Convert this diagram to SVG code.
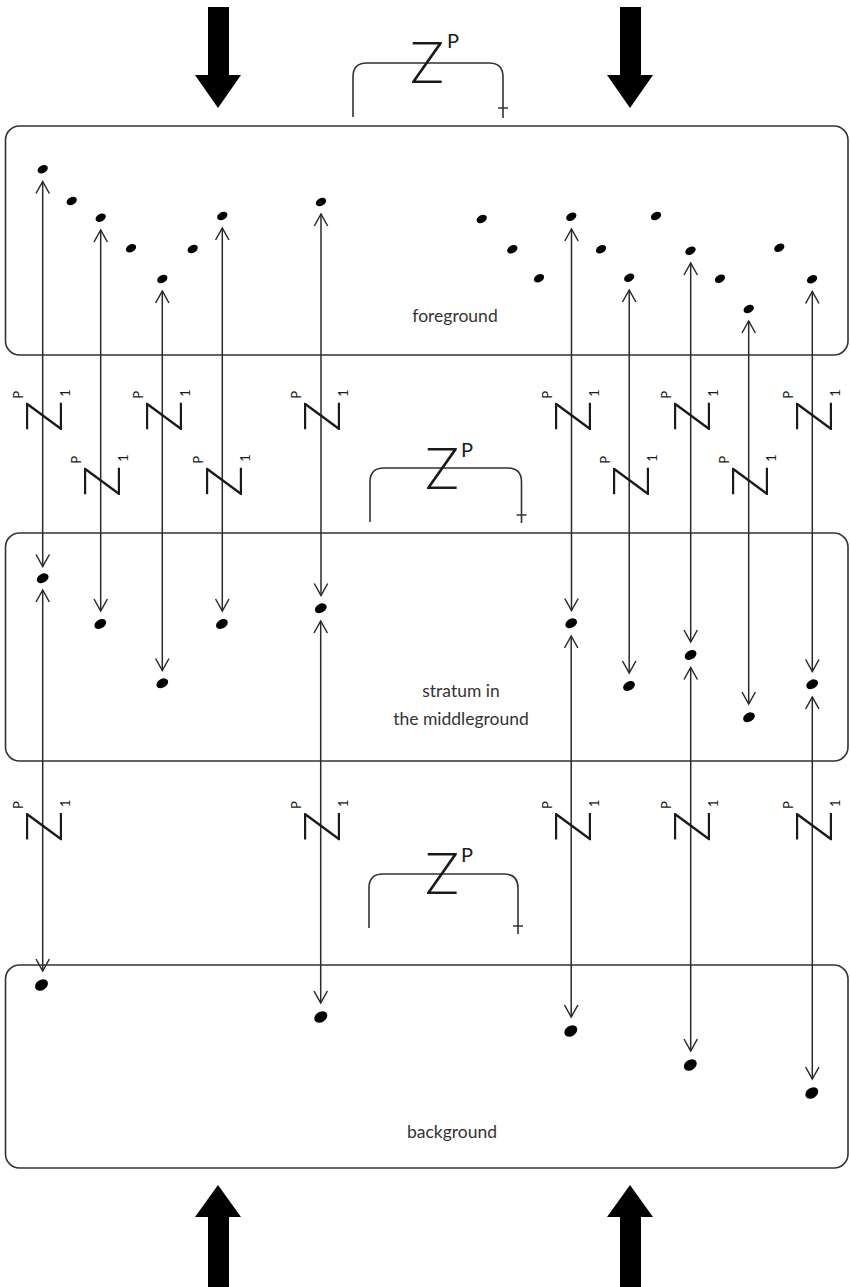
<svg xmlns="http://www.w3.org/2000/svg" width="850" height="1287" viewBox="0 0 850 1287">
<defs>
<style>
.box{fill:none;stroke:#333;stroke-width:1.6}
.lbl{font-family:Lato,'Liberation Sans',sans-serif;font-size:17.5px;fill:#333;text-anchor:middle}
.zl{font-family:Lato,'Liberation Sans',sans-serif;font-weight:300;font-size:52px;fill:#1a1a1a}
.zs{font-family:Lato,'Liberation Sans',sans-serif;font-weight:400;font-size:13px;fill:#1a1a1a}
.zb{font-family:Lato,'Liberation Sans',sans-serif;font-weight:300;font-size:57px;fill:#1a1a1a}
.zbs{font-family:Lato,'Liberation Sans',sans-serif;font-weight:400;font-size:20px;fill:#1a1a1a}
.br{fill:none;stroke:#333;stroke-width:1.6}
.con{stroke:#2a2a2a;stroke-width:1.5;fill:none;marker-start:url(#ah);marker-end:url(#ah)}
.dot{fill:#000}
.big{fill:#000}
</style>
<marker id="ah" viewBox="-14 -9 16 18" refX="0" refY="0" markerWidth="16" markerHeight="18" markerUnits="userSpaceOnUse" orient="auto-start-reverse">
<path d="M-12,-6.7 L0,0 L-12,6.7" fill="none" stroke="#2a2a2a" stroke-width="1.5"/>
</marker>
</defs>

<g id="bigArrows">
<polygon class="big" points="208,7 229,7 229,75 241,75 218,108 195,75 208,75"/>
<polygon class="big" points="620,7 641,7 641,75 653,75 630,108 607,75 620,75"/>
<polygon class="big" points="208,1287 229,1287 229,1217 241,1217 218,1185 195,1217 208,1217"/>
<polygon class="big" points="620,1287 641,1287 641,1217 653,1217 630,1185 607,1217 620,1217"/>
</g>

<g id="foreground">
<rect class="box" x="5.5" y="126" width="842.5" height="229" rx="14"/>
<text class="lbl" x="455" y="322">foreground</text>
<g class="dot">
<ellipse cx="42.7" cy="169.3" rx="5.5" ry="3.8" transform="rotate(-30 42.7 169.3)"/>
<ellipse cx="71.7" cy="201" rx="5.5" ry="3.8" transform="rotate(-30 71.7 201)"/>
<ellipse cx="100.7" cy="217.7" rx="5.5" ry="3.8" transform="rotate(-30 100.7 217.7)"/>
<ellipse cx="131" cy="248.3" rx="5.5" ry="3.8" transform="rotate(-30 131 248.3)"/>
<ellipse cx="162.3" cy="279" rx="5.5" ry="3.8" transform="rotate(-30 162.3 279)"/>
<ellipse cx="192.7" cy="249" rx="5.5" ry="3.8" transform="rotate(-30 192.7 249)"/>
<ellipse cx="222.3" cy="216" rx="5.5" ry="3.8" transform="rotate(-30 222.3 216)"/>
<ellipse cx="321" cy="202" rx="5.5" ry="3.8" transform="rotate(-30 321 202)"/>
<ellipse cx="481.7" cy="219" rx="5.5" ry="3.8" transform="rotate(-30 481.7 219)"/>
<ellipse cx="512.3" cy="249.3" rx="5.5" ry="3.8" transform="rotate(-30 512.3 249.3)"/>
<ellipse cx="539" cy="278.3" rx="5.5" ry="3.8" transform="rotate(-30 539 278.3)"/>
<ellipse cx="571.3" cy="216.7" rx="5.5" ry="3.8" transform="rotate(-30 571.3 216.7)"/>
<ellipse cx="601" cy="249.3" rx="5.5" ry="3.8" transform="rotate(-30 601 249.3)"/>
<ellipse cx="629.2" cy="277.7" rx="5.5" ry="3.8" transform="rotate(-30 629.2 277.7)"/>
<ellipse cx="656" cy="216" rx="5.5" ry="3.8" transform="rotate(-30 656 216)"/>
<ellipse cx="690.5" cy="250.7" rx="5.5" ry="3.8" transform="rotate(-30 690.5 250.7)"/>
<ellipse cx="720" cy="278.7" rx="5.5" ry="3.8" transform="rotate(-30 720 278.7)"/>
<ellipse cx="748.7" cy="309" rx="5.5" ry="3.8" transform="rotate(-30 748.7 309)"/>
<ellipse cx="779.3" cy="247.7" rx="5.5" ry="3.8" transform="rotate(-30 779.3 247.7)"/>
<ellipse cx="812" cy="279.3" rx="5.5" ry="3.8" transform="rotate(-30 812 279.3)"/>
</g>
</g>

<g id="middleground">
<rect class="box" x="5.5" y="533" width="842.5" height="228" rx="14"/>
<text class="lbl" x="461" y="697">stratum in</text>
<text class="lbl" x="461" y="725">the middleground</text>
<g class="dot">
<ellipse cx="42.7" cy="578.3" rx="6.3" ry="4.4" transform="rotate(-30 42.7 578.3)"/>
<ellipse cx="100.3" cy="624" rx="6.3" ry="4.4" transform="rotate(-30 100.3 624)"/>
<ellipse cx="162.3" cy="683.3" rx="6.3" ry="4.4" transform="rotate(-30 162.3 683.3)"/>
<ellipse cx="221.9" cy="624" rx="6.3" ry="4.4" transform="rotate(-30 221.9 624)"/>
<ellipse cx="320.8" cy="608.3" rx="6.3" ry="4.4" transform="rotate(-30 320.8 608.3)"/>
<ellipse cx="571.2" cy="623.3" rx="6.3" ry="4.4" transform="rotate(-30 571.2 623.3)"/>
<ellipse cx="629" cy="686" rx="6.3" ry="4.4" transform="rotate(-30 629 686)"/>
<ellipse cx="690.6" cy="655" rx="6.3" ry="4.4" transform="rotate(-30 690.6 655)"/>
<ellipse cx="749" cy="717.3" rx="6.3" ry="4.4" transform="rotate(-30 749 717.3)"/>
<ellipse cx="812.2" cy="684.3" rx="6.3" ry="4.4" transform="rotate(-30 812.2 684.3)"/>
</g>
</g>

<g id="background">
<rect class="box" x="5.5" y="965" width="842.5" height="203" rx="14"/>
<text class="lbl" x="452" y="1138">background</text>
<g class="dot">
<ellipse cx="41.5" cy="985" rx="7" ry="5.2" transform="rotate(-35 41.5 985)"/>
<ellipse cx="320.8" cy="1017" rx="7" ry="5.2" transform="rotate(-35 320.8 1017)"/>
<ellipse cx="570.8" cy="1031" rx="7" ry="5.2" transform="rotate(-35 570.8 1031)"/>
<ellipse cx="690.3" cy="1065" rx="7" ry="5.2" transform="rotate(-35 690.3 1065)"/>
<ellipse cx="811.8" cy="1093" rx="7" ry="5.2" transform="rotate(-35 811.8 1093)"/>
</g>
</g>

<g id="connectors">
<line class="con" x1="42.7" y1="181.5" x2="42.7" y2="566.5"/>
<line class="con" x1="100.7" y1="230" x2="100.7" y2="611"/>
<line class="con" x1="162.3" y1="291" x2="162.3" y2="670.5"/>
<line class="con" x1="222.3" y1="228" x2="222.3" y2="611"/>
<line class="con" x1="321" y1="214" x2="321" y2="595.5"/>
<line class="con" x1="571.5" y1="229" x2="571.5" y2="610.5"/>
<line class="con" x1="629.2" y1="290" x2="629.2" y2="673"/>
<line class="con" x1="690.7" y1="263" x2="690.7" y2="642"/>
<line class="con" x1="748.7" y1="321" x2="748.7" y2="704"/>
<line class="con" x1="812.3" y1="291.5" x2="812.3" y2="671.5"/>
<line class="con" x1="42.7" y1="590" x2="42.7" y2="971"/>
<line class="con" x1="320.7" y1="621" x2="320.7" y2="1003"/>
<line class="con" x1="571.2" y1="636" x2="571.2" y2="1017"/>
<line class="con" x1="690.7" y1="667.5" x2="690.7" y2="1051"/>
<line class="con" x1="812.3" y1="697" x2="812.3" y2="1079"/>
</g>

<g id="zpTop">
<path class="br" d="M353,117 V77 Q353,63 367,63 H489 Q503,63 503,77 V118 M498,108 H508"/>
<text class="zb" x="410" y="83">Z</text>
<text class="zbs" x="447" y="48">P</text>
</g>
<g id="zpMid">
<path class="br" d="M370,522 V482 Q370,468 384,468 H507.5 Q521.5,468 521.5,482 V523 M516.5,515 H526.5"/>
<text class="zb" x="425" y="489">Z</text>
<text class="zbs" x="461" y="457">P</text>
</g>
<g id="zpBot">
<path class="br" d="M369,928 V888 Q369,874 383,874 H504 Q518,874 518,888 V934 M513,926 H523"/>
<text class="zb" x="425" y="894">Z</text>
<text class="zbs" x="461" y="862">P</text>
</g>

<g id="zRowA">
<g transform="translate(62,431.7) rotate(-90)"><text class="zl" x="0" y="0">Z</text><text class="zs" x="33" y="-39">P</text><text class="zs" x="35" y="8">1</text></g>
<g transform="translate(181.6,431.7) rotate(-90)"><text class="zl" x="0" y="0">Z</text><text class="zs" x="33" y="-39">P</text><text class="zs" x="35" y="8">1</text></g>
<g transform="translate(340.3,431.7) rotate(-90)"><text class="zl" x="0" y="0">Z</text><text class="zs" x="33" y="-39">P</text><text class="zs" x="35" y="8">1</text></g>
<g transform="translate(590.8,431.7) rotate(-90)"><text class="zl" x="0" y="0">Z</text><text class="zs" x="33" y="-39">P</text><text class="zs" x="35" y="8">1</text></g>
<g transform="translate(710,431.7) rotate(-90)"><text class="zl" x="0" y="0">Z</text><text class="zs" x="33" y="-39">P</text><text class="zs" x="35" y="8">1</text></g>
<g transform="translate(831.6,431.7) rotate(-90)"><text class="zl" x="0" y="0">Z</text><text class="zs" x="33" y="-39">P</text><text class="zs" x="35" y="8">1</text></g>
</g>
<g id="zRowB">
<g transform="translate(120,496.7) rotate(-90)"><text class="zl" x="0" y="0">Z</text><text class="zs" x="33" y="-39">P</text><text class="zs" x="35" y="8">1</text></g>
<g transform="translate(241.6,496.7) rotate(-90)"><text class="zl" x="0" y="0">Z</text><text class="zs" x="33" y="-39">P</text><text class="zs" x="35" y="8">1</text></g>
<g transform="translate(648.5,496.7) rotate(-90)"><text class="zl" x="0" y="0">Z</text><text class="zs" x="33" y="-39">P</text><text class="zs" x="35" y="8">1</text></g>
<g transform="translate(768,496.7) rotate(-90)"><text class="zl" x="0" y="0">Z</text><text class="zs" x="33" y="-39">P</text><text class="zs" x="35" y="8">1</text></g>
</g>
<g id="zRowC">
<g transform="translate(62,842) rotate(-90)"><text class="zl" x="0" y="0">Z</text><text class="zs" x="33" y="-39">P</text><text class="zs" x="35" y="8">1</text></g>
<g transform="translate(340,842) rotate(-90)"><text class="zl" x="0" y="0">Z</text><text class="zs" x="33" y="-39">P</text><text class="zs" x="35" y="8">1</text></g>
<g transform="translate(590.5,842) rotate(-90)"><text class="zl" x="0" y="0">Z</text><text class="zs" x="33" y="-39">P</text><text class="zs" x="35" y="8">1</text></g>
<g transform="translate(710,842) rotate(-90)"><text class="zl" x="0" y="0">Z</text><text class="zs" x="33" y="-39">P</text><text class="zs" x="35" y="8">1</text></g>
<g transform="translate(831.6,842) rotate(-90)"><text class="zl" x="0" y="0">Z</text><text class="zs" x="33" y="-39">P</text><text class="zs" x="35" y="8">1</text></g>
</g>
</svg>
